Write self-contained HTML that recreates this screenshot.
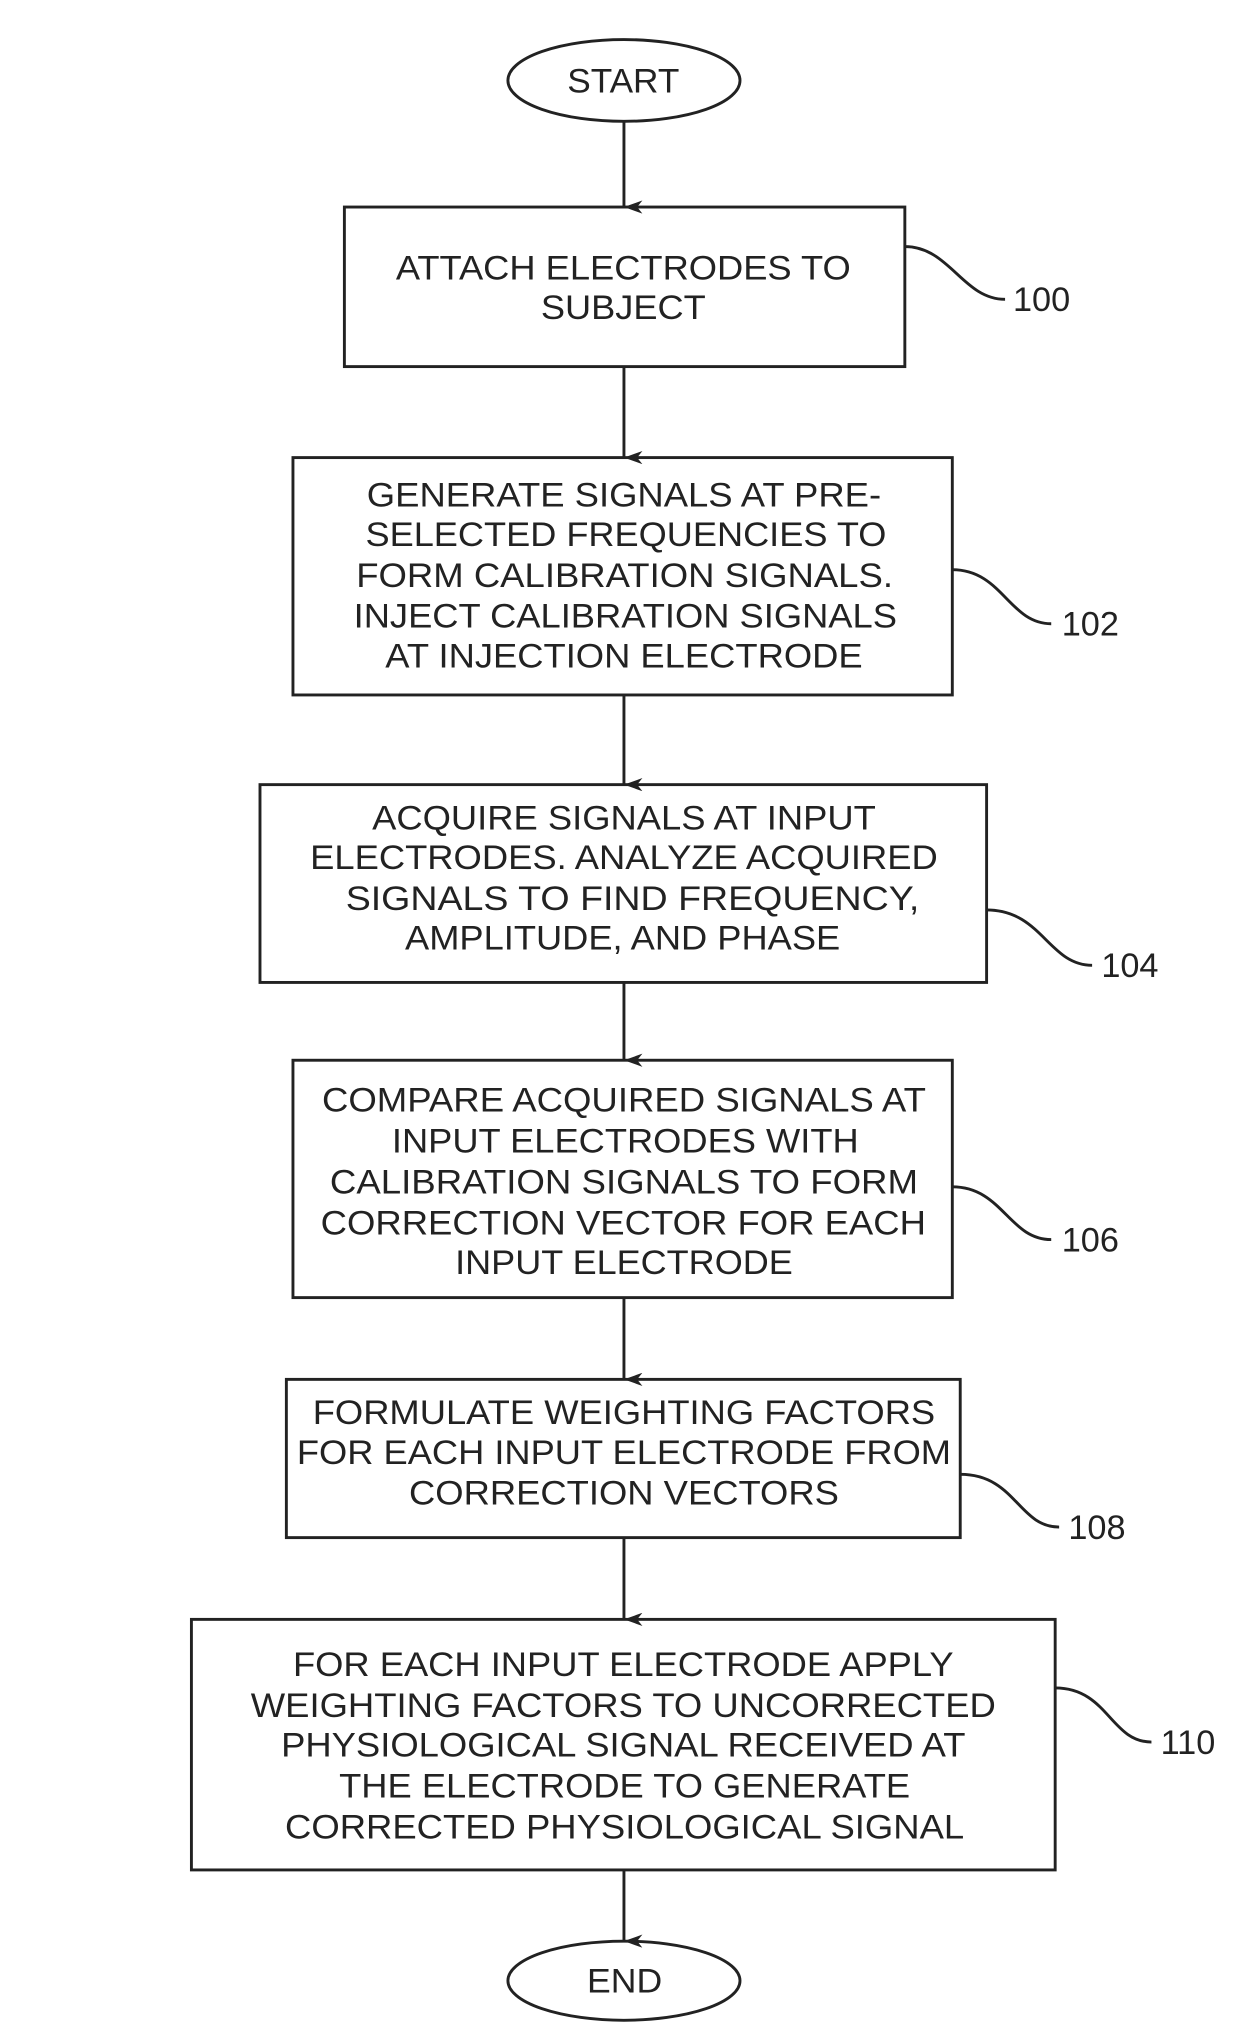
<!DOCTYPE html>
<html><head><meta charset="utf-8"><style>html,body{margin:0;padding:0;background:#fff}svg{display:block}</style></head>
<body>
<svg width="1240" height="2044" viewBox="0 0 940 1550" xmlns="http://www.w3.org/2000/svg" font-family="Liberation Sans, sans-serif" font-size="26" fill="#222">
<defs><marker id="a" markerWidth="10" markerHeight="14" refX="5" refY="14" orient="auto-start-reverse" markerUnits="userSpaceOnUse"><path d="M0,0 L5,4 L10,0 L5,14 Z" fill="#222"/></marker></defs>
<g stroke="#222" stroke-width="2.2" fill="none">
<ellipse cx="473" cy="61" rx="88" ry="31"/>
<rect x="261" y="157" width="425" height="121"/>
<rect x="222" y="347" width="500" height="180"/>
<rect x="197" y="595" width="551" height="150"/>
<rect x="222" y="804" width="500" height="180"/>
<rect x="217" y="1046" width="511" height="120"/>
<rect x="145" y="1228" width="655" height="190"/>
<ellipse cx="473" cy="1502" rx="88" ry="30"/>
<g marker-end="url(#a)">
<line x1="473" y1="92" x2="473" y2="157"/>
<line x1="473" y1="278" x2="473" y2="347"/>
<line x1="473" y1="527" x2="473" y2="595"/>
<line x1="473" y1="745" x2="473" y2="804"/>
<line x1="473" y1="984" x2="473" y2="1046"/>
<line x1="473" y1="1166" x2="473" y2="1228"/>
<line x1="473" y1="1418" x2="473" y2="1472"/>
</g>
<path d="M686,187 C720,187 730,227 762,227"/>
<path d="M722,432 C760,432 765,473 797,473"/>
<path d="M748,690 C790,690 795,732 828,732"/>
<path d="M722,900 C760,900 765,940 797,940"/>
<path d="M728,1118 C770,1118 772,1158 803,1158"/>
<path d="M800,1280 C840,1280 842,1321 873,1321"/>
</g>
<g stroke="none" fill="#222" lengthAdjust="spacingAndGlyphs">
<text x="430" y="70" textLength="85" lengthAdjust="spacingAndGlyphs">START</text>
<text x="300" y="212" textLength="345" lengthAdjust="spacingAndGlyphs">ATTACH ELECTRODES TO</text>
<text x="410" y="242" textLength="125" lengthAdjust="spacingAndGlyphs">SUBJECT</text>
<text x="278" y="384" textLength="390" lengthAdjust="spacingAndGlyphs">GENERATE SIGNALS AT PRE-</text>
<text x="277" y="414" textLength="395" lengthAdjust="spacingAndGlyphs">SELECTED FREQUENCIES TO</text>
<text x="270" y="445" textLength="407" lengthAdjust="spacingAndGlyphs">FORM CALIBRATION SIGNALS.</text>
<text x="268" y="476" textLength="412" lengthAdjust="spacingAndGlyphs">INJECT CALIBRATION SIGNALS</text>
<text x="292" y="506" textLength="362" lengthAdjust="spacingAndGlyphs">AT INJECTION ELECTRODE</text>
<text x="282" y="629" textLength="382" lengthAdjust="spacingAndGlyphs">ACQUIRE SIGNALS AT INPUT</text>
<text x="235" y="659" textLength="476" lengthAdjust="spacingAndGlyphs">ELECTRODES. ANALYZE ACQUIRED</text>
<text x="262" y="690" textLength="435" lengthAdjust="spacingAndGlyphs">SIGNALS TO FIND FREQUENCY,</text>
<text x="307" y="720" textLength="330" lengthAdjust="spacingAndGlyphs">AMPLITUDE, AND PHASE</text>
<text x="244" y="843" textLength="458" lengthAdjust="spacingAndGlyphs">COMPARE ACQUIRED SIGNALS AT</text>
<text x="297" y="874" textLength="354" lengthAdjust="spacingAndGlyphs">INPUT ELECTRODES WITH</text>
<text x="250" y="905" textLength="446" lengthAdjust="spacingAndGlyphs">CALIBRATION SIGNALS TO FORM</text>
<text x="243" y="936" textLength="459" lengthAdjust="spacingAndGlyphs">CORRECTION VECTOR FOR EACH</text>
<text x="345" y="966" textLength="256" lengthAdjust="spacingAndGlyphs">INPUT ELECTRODE</text>
<text x="237" y="1080" textLength="472" lengthAdjust="spacingAndGlyphs">FORMULATE WEIGHTING FACTORS</text>
<text x="225" y="1110" textLength="496" lengthAdjust="spacingAndGlyphs">FOR EACH INPUT ELECTRODE FROM</text>
<text x="310" y="1141" textLength="326" lengthAdjust="spacingAndGlyphs">CORRECTION VECTORS</text>
<text x="222" y="1271" textLength="501" lengthAdjust="spacingAndGlyphs">FOR EACH INPUT ELECTRODE APPLY</text>
<text x="190" y="1302" textLength="565" lengthAdjust="spacingAndGlyphs">WEIGHTING FACTORS TO UNCORRECTED</text>
<text x="213" y="1332" textLength="519" lengthAdjust="spacingAndGlyphs">PHYSIOLOGICAL SIGNAL RECEIVED AT</text>
<text x="257" y="1363" textLength="433" lengthAdjust="spacingAndGlyphs">THE ELECTRODE TO GENERATE</text>
<text x="216" y="1394" textLength="515" lengthAdjust="spacingAndGlyphs">CORRECTED PHYSIOLOGICAL SIGNAL</text>
<text x="445" y="1511" textLength="57" lengthAdjust="spacingAndGlyphs">END</text>
<text x="768" y="236">100</text>
<text x="805" y="482">102</text>
<text x="835" y="741">104</text>
<text x="805" y="949">106</text>
<text x="810" y="1167">108</text>
<text x="880" y="1330">110</text>
</g>
</svg>
</body></html>
